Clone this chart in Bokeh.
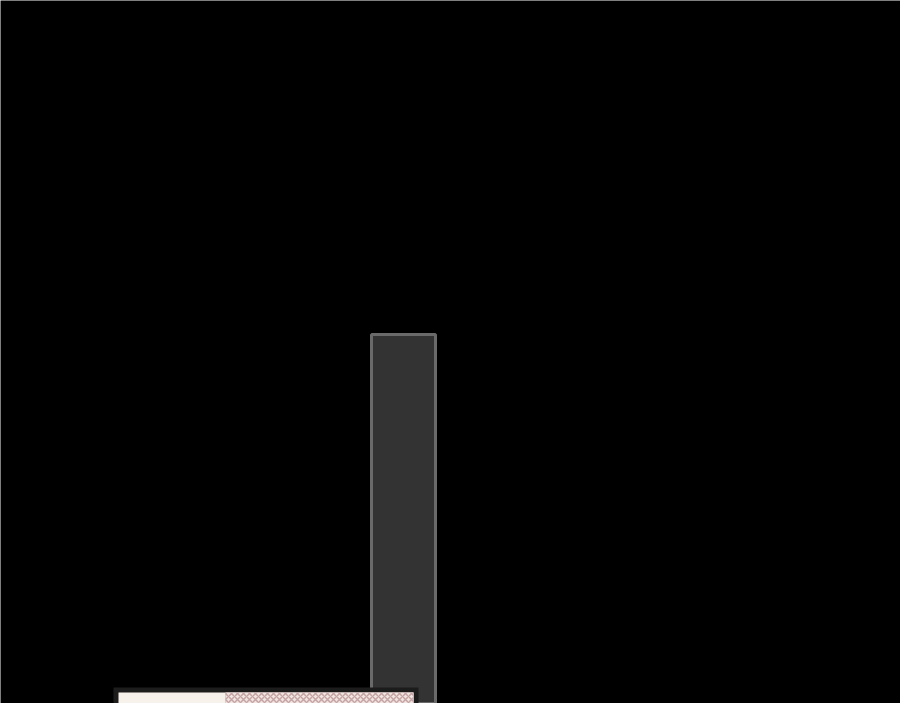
from bokeh.plotting import figure
from bokeh.models import Range1d
from bokeh.embed import file_html
from bokeh.resources import INLINE

# vertical bar (single category)
bar_x = [403]
bar_top = [369]
bar_width = 64

# strip at the bottom: plain part and hatched part
strip_left = [118, 225]
strip_right = [225, 413]
strip_top = 11
frame_pad = 5

p = figure(width=900, height=703, output_backend="svg", toolbar_location=None,
           x_range=Range1d(0, 900), y_range=Range1d(0, 703),
           background_fill_color="#000000", border_fill_color="#000000",
           min_border=0, outline_line_color=None)
p.axis.visible = False
p.grid.visible = False

p.vbar(x=bar_x, top=bar_top, bottom=-20, width=bar_width,
       fill_color="#333333", line_color="#6a6a6a", line_width=3)

# dark frame around the strip
p.quad(left=[strip_left[0] - frame_pad], right=[strip_right[1] + frame_pad],
       bottom=[-20], top=[strip_top + frame_pad],
       fill_color="#1c1c1c", line_color=None)
p.quad(left=strip_left, right=strip_right, bottom=[-20, -20], top=[strip_top, strip_top],
       fill_color="#f7f1ec", line_color=None)
p.quad(left=[strip_left[1]], right=[strip_right[1]], bottom=[-20], top=[strip_top],
       fill_color="#f2e6e3", line_color=None,
       hatch_pattern="x", hatch_color="#c4a4a4", hatch_scale=6, hatch_weight=1.5)

open("out.html", "w").write(file_html(p, INLINE))
